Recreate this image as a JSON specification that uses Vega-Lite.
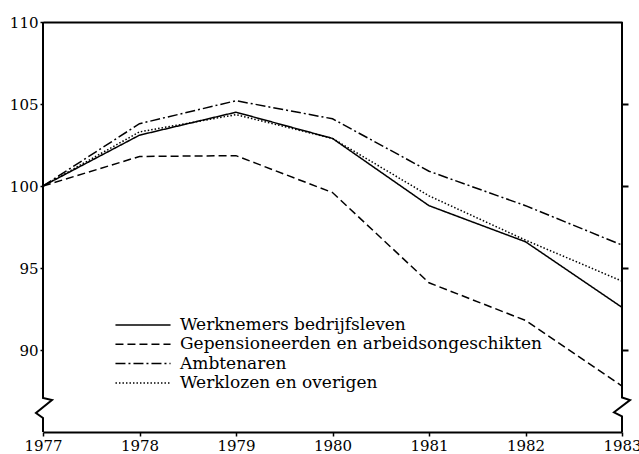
{
  "$schema": "https://vega.github.io/schema/vega-lite/v6.json",
  "width": 579,
  "height": 410,
  "autosize": "none",
  "padding": {"left": 43, "top": 22, "right": 17, "bottom": 22},
  "background": "white",
  "config": {
    "view": {"stroke": null},
    "font": "DejaVu Serif",
    "axis": {"labelFont": "DejaVu Serif", "labelColor": "black", "tickColor": "black", "domainColor": "black", "grid": false, "title": null}
  },
  "datasets": {
    "series": [
      {"jaar": 1977, "reeks": "Werknemers bedrijfsleven", "index": 100},
      {"jaar": 1978, "reeks": "Werknemers bedrijfsleven", "index": 103.1},
      {"jaar": 1979, "reeks": "Werknemers bedrijfsleven", "index": 104.5},
      {"jaar": 1980, "reeks": "Werknemers bedrijfsleven", "index": 102.9},
      {"jaar": 1981, "reeks": "Werknemers bedrijfsleven", "index": 98.8},
      {"jaar": 1982, "reeks": "Werknemers bedrijfsleven", "index": 96.6},
      {"jaar": 1983, "reeks": "Werknemers bedrijfsleven", "index": 92.6},
      {"jaar": 1977, "reeks": "Gepensioneerden en arbeidsongeschikten", "index": 100},
      {"jaar": 1978, "reeks": "Gepensioneerden en arbeidsongeschikten", "index": 101.8},
      {"jaar": 1979, "reeks": "Gepensioneerden en arbeidsongeschikten", "index": 101.85},
      {"jaar": 1980, "reeks": "Gepensioneerden en arbeidsongeschikten", "index": 99.6},
      {"jaar": 1981, "reeks": "Gepensioneerden en arbeidsongeschikten", "index": 94.1},
      {"jaar": 1982, "reeks": "Gepensioneerden en arbeidsongeschikten", "index": 91.8},
      {"jaar": 1983, "reeks": "Gepensioneerden en arbeidsongeschikten", "index": 87.8},
      {"jaar": 1977, "reeks": "Ambtenaren", "index": 100},
      {"jaar": 1978, "reeks": "Ambtenaren", "index": 103.8},
      {"jaar": 1979, "reeks": "Ambtenaren", "index": 105.2},
      {"jaar": 1980, "reeks": "Ambtenaren", "index": 104.1},
      {"jaar": 1981, "reeks": "Ambtenaren", "index": 100.9},
      {"jaar": 1982, "reeks": "Ambtenaren", "index": 98.8},
      {"jaar": 1983, "reeks": "Ambtenaren", "index": 96.4},
      {"jaar": 1977, "reeks": "Werklozen en overigen", "index": 100},
      {"jaar": 1978, "reeks": "Werklozen en overigen", "index": 103.3},
      {"jaar": 1979, "reeks": "Werklozen en overigen", "index": 104.35},
      {"jaar": 1980, "reeks": "Werklozen en overigen", "index": 102.9},
      {"jaar": 1981, "reeks": "Werklozen en overigen", "index": 99.4},
      {"jaar": 1982, "reeks": "Werklozen en overigen", "index": 96.7},
      {"jaar": 1983, "reeks": "Werklozen en overigen", "index": 94.2}
    ],
    "frame": [
      {"zijde": "links", "o": 1, "jaar": 1977, "index": 110},
      {"zijde": "links", "o": 2, "jaar": 1977, "index": 87.07},
      {"zijde": "links", "o": 3, "jaar": 1977.093, "index": 86.95},
      {"zijde": "links", "o": 4, "jaar": 1976.927, "index": 86.16},
      {"zijde": "links", "o": 5, "jaar": 1977, "index": 85.85},
      {"zijde": "links", "o": 6, "jaar": 1977, "index": 85},
      {"zijde": "rechts", "o": 1, "jaar": 1983, "index": 110},
      {"zijde": "rechts", "o": 2, "jaar": 1983, "index": 87.1},
      {"zijde": "rechts", "o": 3, "jaar": 1983.083, "index": 86.95},
      {"zijde": "rechts", "o": 4, "jaar": 1982.917, "index": 86.2},
      {"zijde": "rechts", "o": 5, "jaar": 1983, "index": 85.95},
      {"zijde": "rechts", "o": 6, "jaar": 1983, "index": 85}
    ]
  },
  "resolve": {"axis": {"x": "independent", "y": "independent"}},
  "layer": [
    {
      "data": {"name": "frame"},
      "mark": {"type": "line", "color": "black", "strokeWidth": 2, "clip": false},
      "encoding": {
        "x": {"field": "jaar", "type": "quantitative", "scale": {"domain": [1977, 1983], "nice": false, "zero": false},
              "axis": {"orient": "bottom", "values": [1977, 1978, 1979, 1980, 1981, 1982, 1983], "format": "d", "labelFontSize": 15, "labelPadding": 2, "tickSize": 4, "tickWidth": 1.5, "domainWidth": 2, "labelFlush": false}},
        "y": {"field": "index", "type": "quantitative", "scale": {"domain": [85, 110], "nice": false, "zero": false},
              "axis": {"orient": "left", "values": [90, 95, 100, 105, 110], "domain": false, "labelFontSize": 15, "labelPadding": 2, "tickSize": 3, "tickWidth": 1.5}},
        "detail": {"field": "zijde"},
        "order": {"field": "o", "type": "quantitative"}
      }
    },
    {
      "data": {"name": "series"},
      "mark": {"type": "line", "color": "black", "strokeWidth": 1.5},
      "encoding": {
        "x": {"field": "jaar", "type": "quantitative",
              "axis": {"orient": "top", "labels": false, "ticks": false, "domainWidth": 2}},
        "y": {"field": "index", "type": "quantitative",
              "axis": {"orient": "right", "values": [90, 95, 100, 105], "labels": false, "domain": false, "tickSize": 6, "tickWidth": 2}},
        "strokeDash": {
          "field": "reeks", "type": "nominal",
          "scale": {
            "domain": ["Werknemers bedrijfsleven", "Gepensioneerden en arbeidsongeschikten", "Ambtenaren", "Werklozen en overigen"],
            "range": [[1, 0], [8, 4], [10, 3, 2, 3], [1.5, 2]]
          },
          "legend": {
            "title": null, "orient": "none", "legendX": 90, "legendY": 293,
            "symbolType": "M-3.06,0H3.06", "symbolSize": 324, "symbolStrokeWidth": 1.5, "symbolStrokeColor": "black", "symbolFillColor": "transparent",
            "labelFont": "DejaVu Serif", "labelFontSize": 17, "labelColor": "black", "labelLimit": 0, "labelOffset": 27, "rowPadding": 1.3
          }
        }
      }
    }
  ]
}
